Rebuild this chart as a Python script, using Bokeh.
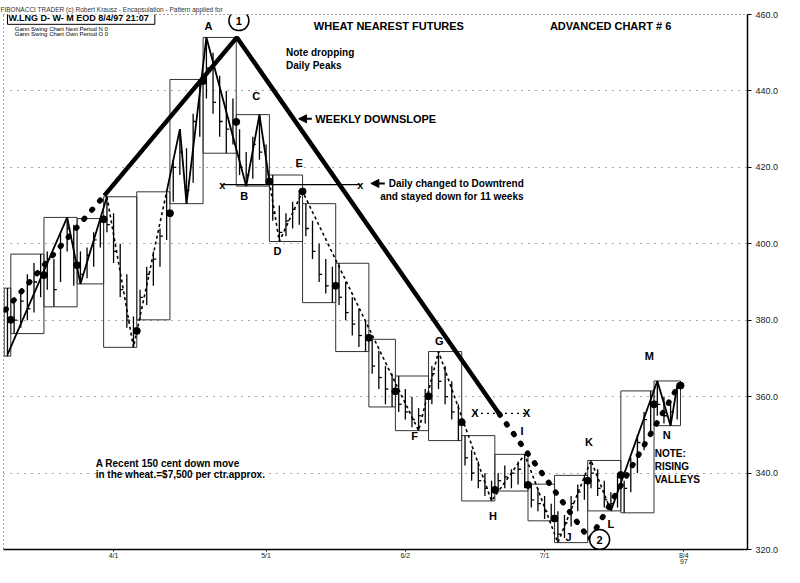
from bokeh.plotting import figure
from bokeh.models import (FixedTicker, Label, Arrow, NormalHead, Range1d,
                          PrintfTickFormatter, ColumnDataSource)
from bokeh.embed import file_html
from bokeh.resources import INLINE
from bokeh.core.properties import value

# ---------------- data (trading-day index, day 0 = Fri 7 Mar 1997) ----------------
high = [388.4, 386, 388, 392, 395, 397.3, 398, 396, 403, 406.9, 405, 398, 399, 403, 406.6,
        412.3, 408, 400, 392, 381, 388, 394, 398, 404, 413.6, 422, 430, 425, 434, 443,
        454, 450, 444, 440, 438, 430, 424, 428, 433.8, 426, 418, 410, 408, 411, 414,
        410.5, 406, 400, 396, 394, 394.9, 390, 386, 383, 380, 375, 372, 368, 366,
        365.4, 362, 360, 357, 362, 368, 371.8, 368, 364, 358, 349.8, 346, 343, 340, 338,
        340, 342, 341, 343, 344.9, 337.1, 336, 334, 332, 330, 329, 334, 337, 339.4,
        343.3, 341, 338, 335, 340, 338, 344, 350, 356, 361.5, 364.1, 360, 358, 363.5]
low = [370.6, 376.5, 378, 380, 382, 386, 388, 383.5, 390, 398, 389, 389.5, 391, 394, 399,
       403, 395, 386, 378, 372.9, 380.1, 384, 389, 394, 401, 411, 418, 410.5, 416, 428,
       438, 434, 428, 423.7, 426, 418, 415.1, 417, 422, 415.5, 406, 400.6, 402, 404, 405,
       402, 396, 390, 387, 384.6, 384, 380, 376, 373, 371.8, 366, 362, 358, 357.3,
       356, 354, 352, 351.1, 353, 358, 362, 358, 354, 348.5, 342, 338, 336, 334, 332.7,
       335.3, 336, 336, 337, 336, 331, 330, 328, 327.5, 321.8, 323, 326, 330, 333,
       336, 334, 331, 330.1, 331, 329.6, 335, 340, 346, 351, 355, 353, 352.4, 354]
close = [380.1, 380, 385, 383, 390, 391.8, 396, 388, 400, 404, 394.4, 392, 397, 401, 406.4,
         405, 398, 388, 380, 377.2, 386, 392, 396, 402, 408, 420, 424, 414, 432, 442.6,
         446, 437, 432, 430, 431.9, 420, 418, 426, 424, 416.3, 408, 403, 406, 409, 413.7,
         404, 398, 392, 389, 389, 386, 382, 379, 376, 375.4, 368, 365, 362, 361.4,
         358, 356, 354, 355, 360.1, 366, 364, 360, 356, 353.3, 344, 340, 338, 336, 335.6,
         338, 339, 340, 341, 336.9, 333, 332, 330, 328.1, 324, 327, 332, 335, 338,
         340, 336, 333, 332, 339.5, 336, 342, 348, 354, 358, 358, 355, 356, 362.9]
days = list(range(len(high)))

# weekly periods (first / last trading-day index of each week)
week_first = [0, 1, 6, 11, 15, 20, 25, 30, 35, 40, 45, 50, 55, 59, 64, 69, 74, 79, 83, 88, 93, 98]
week_last = [0, 5, 10, 14, 19, 24, 29, 34, 39, 44, 49, 54, 58, 63, 68, 73, 78, 82, 87, 92, 97, 101]

# daily Gann swing chart turning points, and whether the leg ending there is solid
swing_day = [0, 9, 11, 15, 19, 24, 26, 27, 30, 36, 38, 39.5, 41, 44.5, 62, 65, 73, 78, 83, 88, 91, 98, 100, 101]
swing_price = [371, 406.9, 389.5, 412.3, 372.9, 413.6, 430, 410.5, 454, 415.1, 433.8, 416.3, 400.6,
               413.7, 351.1, 371.8, 332.7, 344.9, 321.8, 343.3, 330.1, 364.1, 352.4, 362.9]
swing_solid = [True, True, True, True, False, False, True, True, True, True, True, True, False,
               False, False, False, False, False, False, False, False, True, True, True]

# weekly swing chart
wk_swing_day = [-0.3, 14.6, 34.6, 74.2, 87.8, 101.2]
wk_swing_price = [382.7, 412.6, 454.0, 355.4, 322.6, 362.9]
wk_swing_solid = [False, False, True, True, False, False]

# trend-change markers
daily_change_price = 415.5
daily_change_days = [32.4, 53.2]
weekly_change_price = 355.6
weekly_change_days = [70.5, 78.3]

x_ticks = [16, 39, 60, 81, 102]
x_tick_labels = ["4/1", "5/1", "6/2", "7/1", "8/4\n97"]
y_ticks = [320, 340, 360, 380, 400, 420, 440, 460]

FONT = "Liberation Sans"

# ---------------- figure ----------------
p = figure(width=784, height=567, output_backend="svg", toolbar_location=None,
           x_range=Range1d(-0.6, 111.6), y_range=Range1d(320, 460),
           y_axis_location="right", min_border_left=3, min_border_right=37,
           min_border_top=14, min_border_bottom=15)
p.title.text = "FIBONACCI TRADER (c) Robert Krausz  -  Encapsulation  -  Pattern applied for"
p.title.text_font = FONT
p.title.text_font_size = "6.5px"
p.title.text_font_style = "normal"
p.title.text_color = "#333333"
p.title.align = "left"
p.title.standoff = 4
p.title.offset = -3

p.background_fill_color = "white"
p.border_fill_color = "white"
p.outline_line_color = "#444444"
p.outline_line_dash = "1 3"
p.xgrid.grid_line_color = None
p.ygrid.ticker = FixedTicker(ticks=y_ticks[1:-1])
p.ygrid.grid_line_color = "#555555"
p.ygrid.grid_line_dash = "1 6"
p.ygrid.grid_line_width = 1

p.yaxis.ticker = FixedTicker(ticks=y_ticks)
p.yaxis.formatter = PrintfTickFormatter(format="%.1f")
p.yaxis.axis_line_color = "black"
p.yaxis.axis_line_width = 1.5
p.yaxis.major_tick_out = 4
p.yaxis.major_tick_in = 0
p.yaxis.minor_tick_line_color = None
p.yaxis.major_label_text_font = FONT
p.yaxis.major_label_text_font_size = "9px"
p.yaxis.major_label_text_color = "#222222"
p.yaxis.major_label_standoff = 4

p.xaxis.ticker = FixedTicker(ticks=x_ticks)
p.xaxis.major_label_overrides = {t: l for t, l in zip(x_ticks, x_tick_labels)}
p.xaxis.axis_line_color = "black"
p.xaxis.axis_line_width = 1.5
p.xaxis.major_tick_out = 2
p.xaxis.major_tick_in = 0
p.xaxis.minor_tick_line_color = None
p.xaxis.major_label_text_font = FONT
p.xaxis.major_label_text_font_size = "7px"
p.xaxis.major_label_text_line_height = 0.9
p.xaxis.major_label_text_color = "#222222"
p.xaxis.major_label_standoff = 0

# weekly range boxes
wk_left = [f - 0.5 for f in week_first]
wk_right = [l + 0.5 for l in week_last]
wk_top = [max(high[f:l + 1]) for f, l in zip(week_first, week_last)]
wk_bot = [min(low[f:l + 1]) for f, l in zip(week_first, week_last)]
wk_close = [close[l] for l in week_last]
p.quad(left=wk_left, right=wk_right, top=wk_top, bottom=wk_bot,
       fill_alpha=0, line_color="#333333", line_width=1)

# daily bars
p.segment(x0=days, y0=low, x1=days, y1=high, line_color="black", line_width=1.3)
p.segment(x0=days, y0=close, x1=[d + 0.45 for d in days], y1=close, line_color="black", line_width=1.3)


def runs(xs, ys, solid):
    out = []
    cur_x, cur_y, cur_s = [xs[0]], [ys[0]], solid[1]
    for i in range(1, len(xs)):
        if solid[i] != cur_s:
            out.append((cur_x, cur_y, cur_s))
            cur_x, cur_y, cur_s = [xs[i - 1]], [ys[i - 1]], solid[i]
        cur_x.append(xs[i])
        cur_y.append(ys[i])
    out.append((cur_x, cur_y, cur_s))
    return out


# daily swing line
for xs, ys, s in runs(swing_day, swing_price, swing_solid):
    if s:
        p.line(xs, ys, line_color="black", line_width=1.8)
    else:
        p.line(xs, ys, line_color="black", line_width=1.6, line_dash="3 3")

# weekly swing line
for xs, ys, s in runs(wk_swing_day, wk_swing_price, wk_swing_solid):
    if s:
        p.line(xs, ys, line_color="black", line_width=4.5)
    else:
        p.line(xs, ys, line_color="black", line_width=5.5, line_dash="1 11", line_cap="round")

# weekly close dots
p.scatter(x=wk_right, y=wk_close, marker="circle", size=7, color="black")

# trend change lines
p.line(daily_change_days, [daily_change_price] * 2, line_color="black", line_width=1.2)
p.line(weekly_change_days, [weekly_change_price] * 2, line_color="black", line_width=1.2, line_dash="2 4")
p.text(x=daily_change_days + weekly_change_days, y=[daily_change_price] * 2 + [weekly_change_price] * 2,
       text=["x", "x", "X", "X"], text_font=value(FONT), text_font_style="bold",
       text_font_size="11px", text_align="center", text_baseline="middle", color="black")

# circled turning points
circ = ColumnDataSource(dict(x=[34.9, 89.3], y=[458.4, 322.6], t=["1", "2"]))
p.scatter("x", "y", source=circ, marker="circle", size=20, fill_color="white",
          line_color="black", line_width=1.5)
p.text("x", "y", text="t", source=circ, text_font=value(FONT), text_font_style="bold",
       text_font_size="11px", text_align="center", text_baseline="middle", color="black")


def lab(x, y, t, size="10px", align="left", bold=True, **kw):
    p.add_layout(Label(x=x, y=y, text=t, text_font=FONT, text_font_size=size,
                       text_font_style="bold" if bold else "normal", text_align=align,
                       text_baseline="middle", text_color="black", **kw))


# swing letters
for t, x, y in [("A", 30.3, 456.9), ("B", 35.7, 412.6), ("C", 37.5, 438.7), ("D", 40.7, 398.1),
                ("E", 44.0, 421.2), ("F", 61.4, 349.7), ("G", 65.1, 374.6), ("H", 73.2, 328.8),
                ("I", 77.6, 351.0), ("J", 84.6, 323.4), ("K", 87.7, 348.1), ("L", 91.0, 326.8),
                ("M", 96.8, 370.7), ("N", 99.4, 349.9)]:
    lab(x, y, t, size="11px", align="center")

lab(46.2, 457.1, "WHEAT NEAREST FUTURES", size="11px")
lab(81.8, 457.1, "ADVANCED CHART # 6", size="11px")
lab(42.0, 450.1, "Note dropping")
lab(42.0, 446.7, "Daily Peaks")
lab(46.4, 432.7, "WEEKLY DOWNSLOPE", size="11px")
lab(57.5, 415.8, "Daily changed to Downtrend")
lab(56.2, 412.4, "and stayed down for 11 weeks")
lab(97.6, 345.0, "NOTE:")
lab(97.6, 341.6, "RISING")
lab(97.6, 338.2, "VALLEYS")
lab(13.3, 342.4, "A Recent 150 cent down move")
lab(13.3, 339.5, "in the wheat.=$7,500 per ctr.approx.")

for x0, x1, y in [(45.9, 43.9, 432.7), (56.9, 54.8, 415.8)]:
    p.add_layout(Arrow(end=NormalHead(size=8, fill_color="black", line_color="black"),
                       x_start=x0, y_start=y, x_end=x1, y_end=y,
                       line_color="black", line_width=2))

# header box texts
lab(0.0, 459.0, "W.LNG D- W- M EOD   8/4/97 21:07", size="9px",
    border_line_color="black", border_line_width=1, background_fill_color="white", padding=1)
lab(1.1, 456.3, "Gann Swing Chart Next Period N 0", size="6px", bold=False)
lab(1.1, 455.0, "Gann Swing Chart Own Period O 0", size="6px", bold=False)

open("out.html", "w").write(file_html(p, INLINE))
